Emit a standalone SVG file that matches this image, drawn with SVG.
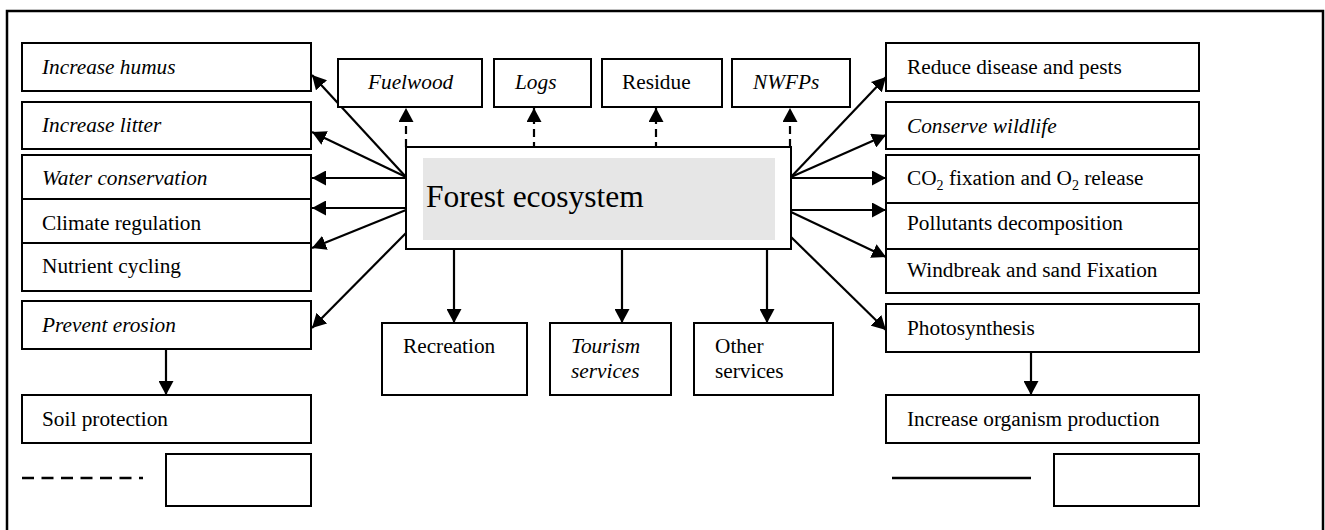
<svg xmlns="http://www.w3.org/2000/svg" width="1325" height="530" viewBox="0 0 1325 530">
<style>
.box{fill:#fff;stroke:#000;stroke-width:2}
.t{font-family:"Liberation Serif","Times New Roman",serif;font-size:21.3px;fill:#000}
.i{font-style:italic}
.c{stroke:#000;stroke-width:2.2;fill:none;marker-end:url(#ah)}
.d{stroke-dasharray:8 5}
</style>
<defs>
<marker id="ah" markerUnits="userSpaceOnUse" markerWidth="15" markerHeight="15" refX="14" refY="7.5" orient="auto" viewBox="0 0 15 15">
<path d="M0,0 L14,7.5 L0,15 z" fill="#000"/>
</marker>
</defs>
<rect x="0" y="0" width="1325" height="530" fill="#fff"/>
<rect x="7" y="11" width="1316" height="530" fill="none" stroke="#000" stroke-width="2.5"/>

<g id="connectors">
<line class="c" x1="406" y1="177" x2="312" y2="75"/>
<line class="c" x1="406" y1="177" x2="312" y2="132"/>
<line class="c" x1="406" y1="178" x2="312" y2="178"/>
<line class="c" x1="406" y1="208" x2="312" y2="208"/>
<line class="c" x1="406" y1="210" x2="312" y2="248"/>
<line class="c" x1="406" y1="233" x2="312" y2="328"/>
<line class="c" x1="791" y1="177" x2="886" y2="77"/>
<line class="c" x1="791" y1="177" x2="886" y2="135"/>
<line class="c" x1="791" y1="178" x2="886" y2="178"/>
<line class="c" x1="791" y1="210" x2="886" y2="210"/>
<line class="c" x1="791" y1="212" x2="886" y2="257"/>
<line class="c" x1="791" y1="237" x2="886" y2="330"/>
<line class="c" x1="454" y1="249" x2="454" y2="323"/>
<line class="c" x1="622" y1="249" x2="622" y2="323"/>
<line class="c" x1="767" y1="249" x2="767" y2="323"/>
<line class="c" x1="166" y1="349" x2="166" y2="395"/>
<line class="c" x1="1031" y1="348" x2="1031" y2="395"/>
<line class="c d" x1="406" y1="147" x2="406" y2="108"/>
<line class="c d" x1="534" y1="150" x2="534" y2="108"/>
<line class="c d" x1="656" y1="150" x2="656" y2="108"/>
<line class="c d" x1="790" y1="147" x2="790" y2="108"/>
</g>

<g id="forest">
<rect class="box" x="406" y="147" width="385" height="102"/>
<rect x="423" y="158" width="352" height="82" fill="#e6e6e6"/>
<text class="t" x="426" y="207" style="font-size:31.5px">Forest ecosystem</text>
</g>

<g id="humus"><rect class="box" x="22" y="43" width="289" height="48"/><text class="t i" x="42" y="74">Increase humus</text></g>
<g id="litter"><rect class="box" x="22" y="102" width="289" height="47"/><text class="t i" x="42" y="132">Increase litter</text></g>
<g id="water"><rect class="box" x="22" y="155" width="289" height="44"/><text class="t i" x="42" y="185">Water conservation</text></g>
<g id="climate"><rect class="box" x="22" y="199" width="289" height="44"/><text class="t" x="42" y="230">Climate regulation</text></g>
<g id="nutrient"><rect class="box" x="22" y="243" width="289" height="48"/><text class="t" x="42" y="273">Nutrient cycling</text></g>
<g id="erosion"><rect class="box" x="22" y="301" width="289" height="48"/><text class="t i" x="42" y="332">Prevent erosion</text></g>
<g id="soil"><rect class="box" x="22" y="395" width="289" height="48"/><text class="t" x="42" y="426">Soil protection</text></g>

<g id="fuelwood"><rect class="box" x="338" y="59" width="144" height="48"/><text class="t i" x="368" y="89">Fuelwood</text></g>
<g id="logs"><rect class="box" x="494" y="59" width="97" height="48"/><text class="t i" x="515" y="89">Logs</text></g>
<g id="residue"><rect class="box" x="602" y="59" width="120" height="48"/><text class="t" x="622" y="89">Residue</text></g>
<g id="nwfps"><rect class="box" x="732" y="59" width="118" height="48"/><text class="t i" x="753" y="89">NWFPs</text></g>

<g id="recreation"><rect class="box" x="382" y="323" width="145" height="72"/><text class="t" x="403" y="353">Recreation</text></g>
<g id="tourism"><rect class="box" x="550" y="323" width="121" height="72"/><text class="t i" x="571" y="353">Tourism</text><text class="t i" x="571" y="378">services</text></g>
<g id="other"><rect class="box" x="694" y="323" width="139" height="72"/><text class="t" x="715" y="353">Other</text><text class="t" x="715" y="378">services</text></g>

<g id="disease"><rect class="box" x="886" y="43" width="313" height="48"/><text class="t" x="907" y="74">Reduce disease and pests</text></g>
<g id="wildlife"><rect class="box" x="886" y="102" width="313" height="47"/><text class="t i" x="907" y="133">Conserve wildlife</text></g>
<g id="co2"><rect class="box" x="886" y="155" width="313" height="48"/><text class="t" x="907" y="185">CO<tspan font-size="14" dy="5">2</tspan><tspan dy="-5"> fixation and O</tspan><tspan font-size="14" dy="5">2</tspan><tspan dy="-5"> release</tspan></text></g>
<g id="pollutants"><rect class="box" x="886" y="203" width="313" height="46"/><text class="t" x="907" y="230">Pollutants decomposition</text></g>
<g id="windbreak"><rect class="box" x="886" y="249" width="313" height="44"/><text class="t" x="907" y="277">Windbreak and sand Fixation</text></g>
<g id="photosynthesis"><rect class="box" x="886" y="304" width="313" height="48"/><text class="t" x="907" y="335">Photosynthesis</text></g>
<g id="organism"><rect class="box" x="886" y="395" width="313" height="48"/><text class="t" x="907" y="426">Increase organism production</text></g>

<g id="legend-dashed">
<line x1="22" y1="478" x2="143" y2="478" stroke="#000" stroke-width="2.5" stroke-dasharray="12 7.5"/>
<rect class="box" x="166" y="454" width="145" height="52"/>
</g>
<g id="legend-solid">
<line x1="892" y1="478" x2="1031" y2="478" stroke="#000" stroke-width="2.5"/>
<rect class="box" x="1054" y="454" width="145" height="52"/>
</g>
</svg>
